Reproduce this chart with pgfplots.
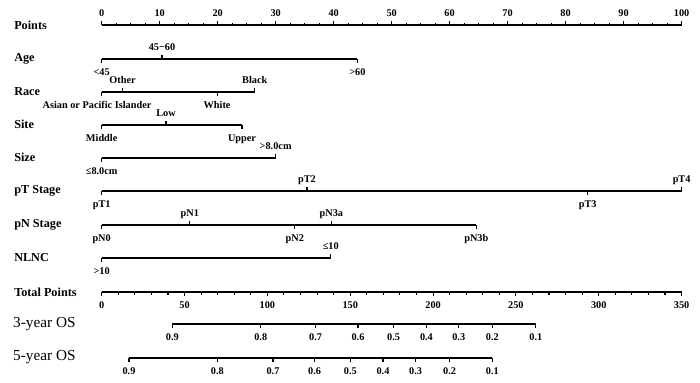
\documentclass[border=0pt]{standalone}
\usepackage{pgfplots}
\pgfplotsset{compat=1.18}
\usepackage{pgfplotstable}
\usepackage{fontspec}
\setmainfont{Liberation Serif}

\tikzset{
  ticklab/.style={font=\fontsize{7.4}{8}\selectfont\bfseries},
  lab/.style={font=\fontsize{8.8}{10}\selectfont\bfseries, anchor=west, inner sep=0pt},
  oslab/.style={font=\fontsize{11}{13}\selectfont, anchor=west, inner sep=0pt},
}
\pgfplotsset{
  tickstyle/.style={black, line width=0.8pt, mark=none},
  mainline/.style={black, line width=1.3pt, mark=none},
  abovenodes/.style={only marks, mark=none, nodes near coords, point meta=explicit symbolic,
     nodes near coords style={ticklab, anchor=base, yshift=6.2pt, inner sep=0pt}},
  belownodes/.style={only marks, mark=none, nodes near coords, point meta=explicit symbolic,
     nodes near coords style={ticklab, anchor=base, yshift=-12pt, inner sep=0pt}},
}

% rows: line y position in pixels (top = 0)
\pgfplotstableread[col sep=comma]{
x,y,d
0,59,4
10.4,59,-4
44.1,59,4
0,92,4
3.6,92,-4
19.9,92,4
26.4,92,-4
0,125,4
11.1,125,-4
24.2,125,4
0,158,4
30.0,158,-4
0,191,4
35.4,191,-4
83.8,191,4
100,191,-4
0,225,4
15.2,225,-4
33.3,225,4
39.6,225,-4
64.6,225,4
0,258,4
39.5,258,-4
}\varticks

\pgfplotstableread[col sep=comma]{
x,y,label
10.4,59,45−60
3.6,92,Other
26.4,92,Black
11.1,125,Low
30.0,158,>8.0cm
35.4,191,pT2
100,191,pT4
15.2,225,pN1
39.6,225,pN3a
39.5,258,≤10
}\abovelabels

\pgfplotstableread[col sep=comma]{
x,y,label
0,59,<45
44.1,59,>60
-0.8,92,Asian or Pacific Islander
19.9,92,White
0,125,Middle
24.2,125,Upper
0,158,≤8.0cm
0,191,pT1
83.8,191,pT3
0,225,pN0
33.3,225,pN2
64.6,225,pN3b
0,258,>10
}\belowlabels

% Points scale (0-100)
\pgfplotstableread[col sep=comma]{
x,y,d
0,25,-4
10,25,-4
20,25,-4
30,25,-4
40,25,-4
50,25,-4
60,25,-4
70,25,-4
80,25,-4
90,25,-4
100,25,-4
}\pointsmajor
\pgfplotstableread[col sep=comma]{
x,y,d
2.5,25,-2.5
5,25,-2.5
7.5,25,-2.5
12.5,25,-2.5
15,25,-2.5
17.5,25,-2.5
22.5,25,-2.5
25,25,-2.5
27.5,25,-2.5
32.5,25,-2.5
35,25,-2.5
37.5,25,-2.5
42.5,25,-2.5
45,25,-2.5
47.5,25,-2.5
52.5,25,-2.5
55,25,-2.5
57.5,25,-2.5
62.5,25,-2.5
65,25,-2.5
67.5,25,-2.5
72.5,25,-2.5
75,25,-2.5
77.5,25,-2.5
82.5,25,-2.5
85,25,-2.5
87.5,25,-2.5
92.5,25,-2.5
95,25,-2.5
97.5,25,-2.5
}\pointsminor

% Total points scale (0-350), t in total points
\pgfplotstableread[col sep=comma]{
t,y,d,label
0,292,4,0
50,292,4,50
100,292,4,100
150,292,4,150
200,292,4,200
250,292,4,250
300,292,4,300
350,292,4,350
}\totalmajor
\pgfplotstableread[col sep=comma]{
t,y,d
10,292,2.5
20,292,2.5
30,292,2.5
40,292,2.5
60,292,2.5
70,292,2.5
80,292,2.5
90,292,2.5
110,292,2.5
120,292,2.5
130,292,2.5
140,292,2.5
160,292,2.5
170,292,2.5
180,292,2.5
190,292,2.5
210,292,2.5
220,292,2.5
230,292,2.5
240,292,2.5
260,292,2.5
270,292,2.5
280,292,2.5
290,292,2.5
310,292,2.5
320,292,2.5
330,292,2.5
340,292,2.5
}\totalminor

% 3-year OS (position in total points)
\pgfplotstableread[col sep=comma]{
t,y,d,label
42.7,324,4,0.9
96.0,324,4,0.8
129.1,324,4,0.7
154.7,324,4,0.6
176.2,324,4,0.5
196.0,324,4,0.4
215.5,324,4,0.3
235.8,324,4,0.2
262.0,324,4,0.1
}\osthree

% 5-year OS (position in total points)
\pgfplotstableread[col sep=comma]{
t,y,d,label
16.5,358,4,0.9
69.8,358,4,0.8
103.4,358,4,0.7
128.5,358,4,0.6
150.1,358,4,0.5
169.8,358,4,0.4
189.5,358,4,0.3
210.0,358,4,0.2
235.8,358,4,0.1
}\osfive

\begin{document}
\begin{tikzpicture}
\begin{axis}[
  width=504pt, height=275.76pt, scale only axis,
  xmin=-17.53, xmax=103.17, ymin=0, ymax=383,
  y dir=reverse, clip=false,
  axis line style={draw=none}, xtick=\empty, ytick=\empty,
]
% row labels
\node[lab] at (axis cs:-15.12,25) {Points};
\node[lab] at (axis cs:-15.12,58.5) {Age};
\node[lab] at (axis cs:-15.12,91.5) {Race};
\node[lab] at (axis cs:-15.12,124.5) {Site};
\node[lab] at (axis cs:-15.12,157.5) {Size};
\node[lab] at (axis cs:-15.12,190.5) {pT Stage};
\node[lab] at (axis cs:-15.12,224.5) {pN Stage};
\node[lab] at (axis cs:-15.12,257.5) {NLNC};
\node[lab] at (axis cs:-15.12,292) {Total Points};
\node[oslab] at (axis cs:-15.3,324.5) {3-year OS};
\node[oslab] at (axis cs:-15.3,357.5) {5-year OS};

% Points scale
\addplot[mainline] coordinates {(0,25) (100,25)};
\addplot[tickstyle, quiver={u=0,v=\thisrow{d}}] table[x=x,y=y] {\pointsmajor};
\addplot[tickstyle, quiver={u=0,v=\thisrow{d}}] table[x=x,y=y] {\pointsminor};
\addplot[abovenodes] table[x=x,y=y,meta=x] {\pointsmajor};

% variable lines
\addplot[mainline] coordinates {(0,59) (44.1,59)};
\addplot[mainline] coordinates {(0,92) (26.4,92)};
\addplot[mainline] coordinates {(0,125) (24.2,125)};
\addplot[mainline] coordinates {(0,158) (30.0,158)};
\addplot[mainline] coordinates {(0,191) (100,191)};
\addplot[mainline] coordinates {(0,225) (64.6,225)};
\addplot[mainline] coordinates {(0,258) (39.5,258)};
\addplot[tickstyle, quiver={u=0,v=\thisrow{d}}] table[x=x,y=y] {\varticks};
\addplot[abovenodes] table[x=x,y=y,meta=label] {\abovelabels};
\addplot[belownodes] table[x=x,y=y,meta=label] {\belowlabels};

% Total points scale
\addplot[mainline] coordinates {(0,292) (100,292)};
\addplot[tickstyle, quiver={u=0,v=\thisrow{d}}] table[x expr=\thisrow{t}/3.5,y=y] {\totalmajor};
\addplot[tickstyle, quiver={u=0,v=\thisrow{d}}] table[x expr=\thisrow{t}/3.5,y=y] {\totalminor};
\addplot[belownodes] table[x expr=\thisrow{t}/3.5,y=y,meta=label] {\totalmajor};

% 3-year OS
\addplot[mainline] table[x expr=\thisrow{t}/3.5,y=y] {\osthree};
\addplot[tickstyle, quiver={u=0,v=\thisrow{d}}] table[x expr=\thisrow{t}/3.5,y=y] {\osthree};
\addplot[belownodes] table[x expr=\thisrow{t}/3.5,y=y,meta=label] {\osthree};

% 5-year OS
\addplot[mainline] table[x expr=\thisrow{t}/3.5,y=y] {\osfive};
\addplot[tickstyle, quiver={u=0,v=\thisrow{d}}] table[x expr=\thisrow{t}/3.5,y=y] {\osfive};
\addplot[belownodes] table[x expr=\thisrow{t}/3.5,y=y,meta=label] {\osfive};
\end{axis}
\end{tikzpicture}
\end{document}
